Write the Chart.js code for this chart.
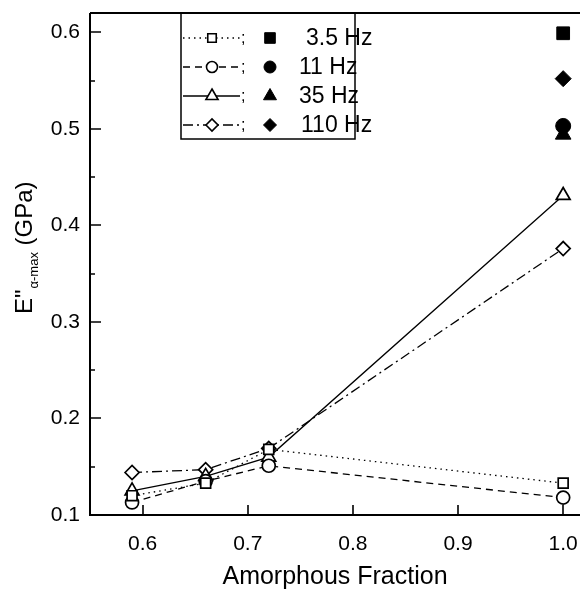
<!DOCTYPE html>
<html><head><meta charset="utf-8">
<script src="https://cdn.jsdelivr.net/npm/chart.js@4.4.1/dist/chart.umd.min.js"></script>
<style>html,body{margin:0;padding:0;background:#fff}#wrap{width:580px;height:590px}</style>
</head><body><div id="wrap"><canvas id="c" width="580" height="590"></canvas></div>
<script>
// ---- data ----
const xVals = [0.59, 0.66, 0.72, 1.0];
const hz3_5 = [0.120, 0.133, 0.168, 0.133];
const hz11  = [0.113, 0.135, 0.151, 0.118];
const hz35  = [0.125, 0.140, 0.160, 0.431];
const hz110 = [0.144, 0.147, 0.169, 0.376];
const filledX = [1.0];
const hz3_5Filled = [0.599];
const hz11Filled  = [0.503];
const hz35Filled  = [0.494];
const hz110Filled = [0.552];
const legendLabels = ['3.5 Hz', '11 Hz', '35 Hz', '110 Hz'];
const xTicks = [0.6, 0.7, 0.8, 0.9, 1.0];
const yTicks = [0.1, 0.2, 0.3, 0.4, 0.5, 0.6];
const yMinorTicks = [0.15, 0.25, 0.35, 0.45, 0.55];

// ---- styles ----
const FONT = '"Liberation Sans", Arial, Helvetica, sans-serif';
const openStyles = [
  {style: 'rect', r: 7, dash: [1.5, 4]},
  {style: 'circle', r: 6.5, dash: [7, 5]},
  {style: 'triangle', r: 8, dash: []},
  {style: 'rectRot', r: 7, dash: [10, 4, 2, 4]}
];
const filledStyles = [
  {style: 'rect', r: 9},
  {style: 'circle', r: 7.5},
  {style: 'triangle', r: 9},
  {style: 'rectRot', r: 8}
];
const openSeries = [hz3_5, hz11, hz35, hz110];
const filledSeries = [hz3_5Filled, hz11Filled, hz35Filled, hz110Filled];

const toPts = (xs, ys) => xs.map((x, i) => ({x: x, y: ys[i]}));

const datasets = [];
openSeries.forEach((s, i) => {
  const st = openStyles[i];
  datasets.push({
    label: legendLabels[i] + ' open',
    data: toPts(xVals, s),
    showLine: true,
    borderColor: '#000',
    borderWidth: 1.3,
    borderDash: st.dash,
    pointStyle: st.style,
    pointRadius: st.r,
    pointBorderWidth: 1.7,
    pointBorderColor: '#000',
    pointBackgroundColor: '#fff',
    fill: false
  });
});
filledSeries.forEach((s, i) => {
  const st = filledStyles[i];
  datasets.push({
    label: legendLabels[i] + ' filled',
    data: toPts(filledX, s),
    showLine: false,
    pointStyle: st.style,
    pointRadius: st.r,
    pointBorderWidth: 1,
    pointBorderColor: '#000',
    pointBackgroundColor: '#000'
  });
});

const axesPlugin = {
  id: 'axesPlugin',
  beforeDatasetsDraw(chart) {
    const ctx = chart.ctx, ca = chart.chartArea;
    const xs = chart.scales.x, ys = chart.scales.y;
    ctx.save();
    ctx.strokeStyle = '#000';
    ctx.lineWidth = 2;
    ctx.beginPath();
    ctx.moveTo(ca.left, ca.top);
    ctx.lineTo(ca.left, ca.bottom);
    ctx.lineTo(ca.right, ca.bottom);
    ctx.moveTo(ca.left, ca.top);
    ctx.lineTo(ca.right, ca.top);
    ctx.stroke();
    ctx.lineWidth = 1.6;
    ctx.beginPath();
    xTicks.forEach(v => {
      const p = Math.round(xs.getPixelForValue(v));
      ctx.moveTo(p, ca.bottom); ctx.lineTo(p, ca.bottom - 10);
    });
    yTicks.forEach(v => {
      const p = Math.round(ys.getPixelForValue(v));
      ctx.moveTo(ca.left, p); ctx.lineTo(ca.left + 11, p);
    });
    yMinorTicks.forEach(v => {
      const p = Math.round(ys.getPixelForValue(v));
      ctx.moveTo(ca.left, p); ctx.lineTo(ca.left + 5, p);
    });
    ctx.stroke();
    ctx.restore();
  },
  afterDraw(chart) {
    const ctx = chart.ctx;
    // y-axis title with subscript
    ctx.save();
    ctx.fillStyle = '#000';
    ctx.translate(32, 314);
    ctx.rotate(-Math.PI / 2);
    ctx.textBaseline = 'alphabetic';
    ctx.textAlign = 'left';
    ctx.font = '24px ' + FONT;
    let u = 0;
    ctx.fillText('E"', u, 0);
    u += ctx.measureText('E"').width + 1;
    ctx.font = '13px ' + FONT;
    ctx.fillText('\u03b1-max', u, 6);
    u += ctx.measureText('\u03b1-max').width;
    ctx.font = '24px ' + FONT;
    ctx.fillText(' (GPa)', u, 0);
    ctx.restore();

    // legend box
    ctx.save();
    ctx.strokeStyle = '#000';
    ctx.lineWidth = 1.5;
    ctx.strokeRect(181, 13, 174, 126);
    const rowY = [38, 67, 96, 125];
    const H = Chart.helpers;
    legendLabels.forEach((lab, i) => {
      const y = rowY[i];
      const os = openStyles[i], fs = filledStyles[i];
      ctx.save();
      ctx.lineWidth = 1.3;
      ctx.setLineDash(os.dash);
      ctx.beginPath();
      ctx.moveTo(183, y); ctx.lineTo(240, y);
      ctx.stroke();
      ctx.restore();
      ctx.fillStyle = '#fff';
      ctx.strokeStyle = '#000';
      ctx.lineWidth = 1.6;
      H.drawPoint(ctx, {pointStyle: os.style, radius: os.r - 1, borderWidth: 1.6, rotation: 0}, 212, y);
      ctx.fillStyle = '#000';
      ctx.font = '16px ' + FONT;
      ctx.textBaseline = 'middle';
      ctx.textAlign = 'left';
      ctx.fillText(';', 241, y + 1);
      ctx.lineWidth = 1;
      H.drawPoint(ctx, {pointStyle: fs.style, radius: fs.r - 1.5, borderWidth: 1, rotation: 0}, 270, y);
      ctx.font = '23px ' + FONT;
      ctx.fillText(lab, i === 0 ? 306 : (i === 3 ? 301 : 299), y + 1);
    });
    ctx.restore();
  }
};

new Chart(document.getElementById('c'), {
  type: 'scatter',
  data: {datasets: datasets},
  plugins: [axesPlugin],
  options: {
    responsive: false,
    animation: false,
    devicePixelRatio: 1,
    layout: {autoPadding: false, padding: {top: 13, left: 0, right: 0, bottom: 0}},
    plugins: {legend: {display: false}, tooltip: {enabled: false}},
    scales: {
      x: {
        type: 'linear',
        min: 0.55, max: 1.016,
        afterBuildTicks: s => { s.ticks = xTicks.map(v => ({value: v})); },
        afterFit: s => { s.height = 75; s.paddingLeft = 0; s.paddingRight = 0; },
        grid: {display: false, drawTicks: false},
        border: {display: false},
        ticks: {
          color: '#000', font: {family: FONT, size: 21}, padding: 17,
          autoSkip: false, maxRotation: 0,
          callback: v => Number(v).toFixed(1)
        },
        title: {
          display: true, text: 'Amorphous Fraction', color: '#000',
          font: {family: FONT, size: 25}, padding: {top: 0, bottom: -2}
        }
      },
      y: {
        type: 'linear',
        min: 0.1, max: 0.62,
        afterBuildTicks: s => { s.ticks = yTicks.map(v => ({value: v})); },
        afterFit: s => { s.width = 90; s.paddingTop = 0; s.paddingBottom = 0; },
        grid: {display: false, drawTicks: false},
        border: {display: false},
        ticks: {
          color: '#000', font: {family: FONT, size: 21}, padding: 10,
          autoSkip: false,
          callback: v => Number(v).toFixed(1)
        }
      }
    }
  }
});
</script>
</body></html>
